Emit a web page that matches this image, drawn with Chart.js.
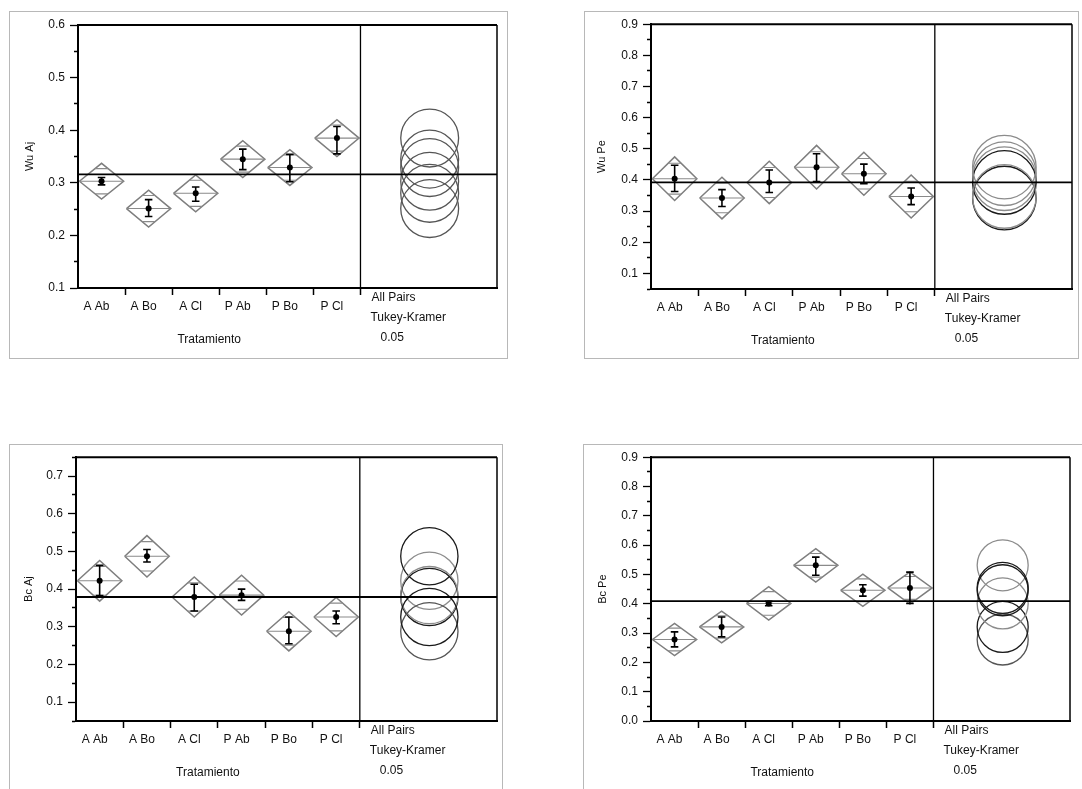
<!DOCTYPE html>
<html>
<head>
<meta charset="utf-8">
<script src="https://cdn.jsdelivr.net/npm/chart.js@4/dist/chart.umd.min.js"></script>
<style>
  body { margin: 0; background: #fff; width: 1082px; height: 789px; overflow: hidden; position: relative; }
  .panel { position: absolute; outline: 1px solid #b8b8b8; }
  .panel canvas { position: absolute; left: 0; top: 0; }
</style>
</head>
<body>
<div class="panel" style="left:10px;top:12px;width:497px;height:346px"><canvas id="wuAj" width="497" height="346"></canvas></div>
<div class="panel" style="left:585px;top:12px;width:493px;height:346px"><canvas id="wuPe" width="493" height="346"></canvas></div>
<div class="panel" style="left:10px;top:445px;width:492px;height:344px"><canvas id="bcAj" width="492" height="344"></canvas></div>
<div class="panel" style="left:584px;top:445px;width:498px;height:344px"><canvas id="bcPe" width="498" height="344"></canvas></div>
<script>
// categories (Tratamiento)
const categories = ['A Ab', 'A Bo', 'A Cl', 'P Ab', 'P Bo', 'P Cl'];
const compText = ['All Pairs', 'Tukey-Kramer', '0.05'];
const xTitle = 'Tratamiento';

// Wu Aj
const wuAjMean = [0.303, 0.251, 0.280, 0.345, 0.329, 0.385];
const wuAjHalf = [0.034, 0.035, 0.035, 0.035, 0.034, 0.035];
const wuAjLo = [0.296, 0.236, 0.265, 0.325, 0.302, 0.355];
const wuAjHi = [0.310, 0.268, 0.292, 0.364, 0.354, 0.407];
const wuAjGrand = 0.316;
const wuAjCircleR = 0.055;
const wuAjTicks = [0.1, 0.2, 0.3, 0.4, 0.5, 0.6];

// Wu Pe
const wuPeMean = [0.404, 0.342, 0.392, 0.441, 0.420, 0.347];
const wuPeHalf = [0.070, 0.067, 0.068, 0.070, 0.069, 0.069];
const wuPeLo = [0.363, 0.315, 0.360, 0.395, 0.388, 0.321];
const wuPeHi = [0.447, 0.369, 0.432, 0.484, 0.451, 0.374];
const wuPeGrand = 0.392;
const wuPeCircleR = 0.102;
const wuPeTicks = [0.1, 0.2, 0.3, 0.4, 0.5, 0.6, 0.7, 0.8, 0.9];

// Bc Aj
const bcAjMean = [0.422, 0.487, 0.379, 0.384, 0.288, 0.326];
const bcAjHalf = [0.054, 0.055, 0.053, 0.053, 0.052, 0.052];
const bcAjLo = [0.383, 0.472, 0.342, 0.370, 0.255, 0.308];
const bcAjHi = [0.463, 0.505, 0.413, 0.400, 0.326, 0.342];
const bcAjGrand = 0.379;
const bcAjCircleR = 0.076;
const bcAjTicks = [0.1, 0.2, 0.3, 0.4, 0.5, 0.6, 0.7];

// Bc Pe
const bcPeMean = [0.278, 0.321, 0.401, 0.531, 0.446, 0.454];
const bcPeHalf = [0.055, 0.054, 0.057, 0.057, 0.055, 0.055];
const bcPeLo = [0.253, 0.287, 0.393, 0.497, 0.426, 0.401];
const bcPeHi = [0.304, 0.355, 0.408, 0.559, 0.465, 0.508];
const bcPeGrand = 0.409;
const bcPeCircleR = 0.087;
const bcPeTicks = [0.0, 0.1, 0.2, 0.3, 0.4, 0.5, 0.6, 0.7, 0.8, 0.9];

Chart.defaults.font.family = '"Liberation Sans", Arial, sans-serif';
Chart.defaults.font.size = 12;
Chart.defaults.color = '#111';

const DARK = '#1a1a1a', MID = '#555', LIGHT = '#8c8c8c';
const X_MAX = 8.9, CIRCLE_X = 7.47;

const isMajor = (v, majors) => majors.some(m => Math.abs(m - v) < 1e-6);

// frame + extra text
const panelDeco = {
  id: 'panelDeco',
  afterDatasetsDraw(chart) {
    const { ctx, chartArea: a } = chart;
    ctx.save();
    ctx.strokeStyle = '#000';
    ctx.lineWidth = 2;
    ctx.beginPath();
    ctx.moveTo(a.left, a.top); ctx.lineTo(a.right, a.top);
    ctx.stroke();
    ctx.lineWidth = 1.5;
    ctx.beginPath();
    ctx.moveTo(a.right, a.top); ctx.lineTo(a.right, a.bottom);
    ctx.stroke();
    ctx.restore();
  },
  afterDraw(chart) {
    const { ctx, chartArea: a, scales } = chart;
    const x = scales.x;
    ctx.save();
    ctx.fillStyle = '#111';
    ctx.font = '12px "Liberation Sans", Arial, sans-serif';
    ctx.textBaseline = 'middle';
    ctx.textAlign = 'center';
    ctx.fillText(xTitle, x.getPixelForValue(3) - 10, a.bottom + 52);
    ctx.textAlign = 'left';
    const dx = x.getPixelForValue(6);
    ctx.fillText(compText[0], dx + 11, a.bottom + 10);
    ctx.fillText(compText[1], dx + 10, a.bottom + 30);
    ctx.fillText(compText[2], dx + 20, a.bottom + 50);
    ctx.restore();
  }
};

function makePanel(id, p) {
  const diamonds = [], meanLines = [], errBars = [];
  p.mean.forEach((m, i) => {
    const h = p.half[i], c = i + 0.5;
    diamonds.push({x: i + 0.03, y: m}, {x: c, y: m + h}, {x: i + 0.97, y: m},
                  {x: c, y: m - h}, {x: i + 0.03, y: m}, {x: c, y: null});
    const d = h * 0.7071, w = 0.47 * (1 - 0.7071);
    meanLines.push({x: i + 0.03, y: m}, {x: i + 0.97, y: m}, {x: c, y: null},
                   {x: c - w, y: m + d}, {x: c + w, y: m + d}, {x: c, y: null},
                   {x: c - w, y: m - d}, {x: c + w, y: m - d}, {x: c, y: null});
    const lo = p.lo[i], hi = p.hi[i];
    errBars.push({x: c, y: lo}, {x: c, y: hi}, {x: c, y: null},
                 {x: c - 0.08, y: lo}, {x: c + 0.08, y: lo}, {x: c, y: null},
                 {x: c - 0.08, y: hi}, {x: c + 0.08, y: hi}, {x: c, y: null});
  });

  const line = (data, color, width) => ({
    type: 'line', data, borderColor: color, borderWidth: width,
    pointRadius: 0, fill: false, tension: 0, spanGaps: false
  });

  // minor ticks halfway between majors
  const yTicks = [];
  const step = 0.05;
  for (let v = p.yMin; v <= p.yMax + 1e-9; v += step) yTicks.push(Math.round(v * 100) / 100);

  new Chart(document.getElementById(id), {
    type: 'scatter',
    data: {
      datasets: [
        { data: p.mean.map((m, i) => ({x: i + 0.5, y: m})), pointRadius: 3,
          pointBackgroundColor: '#000', pointBorderColor: '#000', pointBorderWidth: 0 },
        line(errBars, '#000', 1.6),
        line([{x: 0, y: p.grand}, {x: X_MAX, y: p.grand}], '#000', 1.8),
        line([{x: 6, y: p.yMin}, {x: 6, y: p.yMax}], '#000', 1.3),
        { data: p.mean.map(m => ({x: CIRCLE_X, y: m})),
          pointRadius: (ctx) => {
            const s = ctx.chart.scales.y;
            return Math.abs(s.getPixelForValue(p.yMin) - s.getPixelForValue(p.yMin + p.circleR));
          },
          pointBackgroundColor: 'rgba(0,0,0,0)', pointBorderColor: p.circleColors,
          pointBorderWidth: 1.3, clip: false },
        line(meanLines, '#8a8a8a', 1.1),
        line(diamonds, '#7e7e7e', 1.5)
      ]
    },
    options: {
      responsive: false,
      animation: false,
      events: [],
      layout: { padding: { top: p.padT, right: p.padR, left: 0, bottom: 0 } },
      plugins: { legend: { display: false }, tooltip: { enabled: false } },
      scales: {
        x: {
          type: 'linear', min: 0, max: X_MAX,
          afterFit: (s) => { s.height = p.axB; },
          afterBuildTicks: (s) => {
            const t = [];
            for (let i = 0; i < categories.length; i++) t.push({value: i + 0.5}, {value: i + 1});
            s.ticks = t;
          },
          border: { display: true, color: '#000', width: 2 },
          grid: {
            drawOnChartArea: false, tickLength: 7, tickWidth: 1.5,
            tickColor: (ctx) => (ctx.tick && Number.isInteger(ctx.tick.value)) ? '#000' : 'rgba(0,0,0,0)'
          },
          ticks: {
            autoSkip: false, maxRotation: 0, padding: 4, labelOffset: -5,
            font: { size: 12 },
            callback: (v) => Number.isInteger(v) ? '' : categories[Math.round(v - 0.5)]
          }
        },
        y: {
          min: p.yMin, max: p.yMax,
          afterFit: (s) => { s.width = p.axL; },
          afterBuildTicks: (s) => { s.ticks = yTicks.map(v => ({value: v})); },
          border: { display: true, color: '#000', width: 2 },
          grid: {
            drawOnChartArea: false, tickLength: 8, tickWidth: 1.3, tickColor: '#000',
            tickBorderDash: (ctx) => (ctx.tick && !isMajor(ctx.tick.value, p.majors)) ? [0, 4, 3, 100] : []
          },
          ticks: {
            autoSkip: false, padding: 5, font: { size: 12 },
            callback: (v) => isMajor(v, p.majors) ? v.toFixed(1) : ''
          },
          title: { display: true, text: p.yLabel, font: { size: 11 }, padding: { top: p.titleOff - 7, bottom: 0 } }
        }
      }
    },
    plugins: [panelDeco]
  });
}

makePanel('wuAj', {
  mean: wuAjMean, half: wuAjHalf, lo: wuAjLo, hi: wuAjHi, grand: wuAjGrand, circleR: wuAjCircleR,
  majors: wuAjTicks, yMin: 0.1, yMax: 0.6, yLabel: 'Wu Aj',
  circleColors: [MID, MID, MID, MID, MID, MID],
  axL: 68, padT: 13, padR: 10, axB: 70, titleOff: 20
});
makePanel('wuPe', {
  mean: wuPeMean, half: wuPeHalf, lo: wuPeLo, hi: wuPeHi, grand: wuPeGrand, circleR: wuPeCircleR,
  majors: wuPeTicks, yMin: 0.05, yMax: 0.9, yLabel: 'Wu Pe',
  circleColors: [LIGHT, DARK, DARK, LIGHT, LIGHT, LIGHT],
  axL: 66, padT: 12, padR: 6, axB: 69, titleOff: 17
});
makePanel('bcAj', {
  mean: bcAjMean, half: bcAjHalf, lo: bcAjLo, hi: bcAjHi, grand: bcAjGrand, circleR: bcAjCircleR,
  majors: bcAjTicks, yMin: 0.05, yMax: 0.75, yLabel: 'Bc Aj',
  circleColors: [LIGHT, DARK, DARK, LIGHT, MID, DARK],
  axL: 66, padT: 12, padR: 5, axB: 68, titleOff: 19
});
makePanel('bcPe', {
  mean: bcPeMean, half: bcPeHalf, lo: bcPeLo, hi: bcPeHi, grand: bcPeGrand, circleR: bcPeCircleR,
  majors: bcPeTicks, yMin: 0.0, yMax: 0.9, yLabel: 'Bc Pe',
  circleColors: [MID, DARK, LIGHT, LIGHT, DARK, DARK],
  axL: 67, padT: 12, padR: 12, axB: 68, titleOff: 19
});
</script>
</body>
</html>
